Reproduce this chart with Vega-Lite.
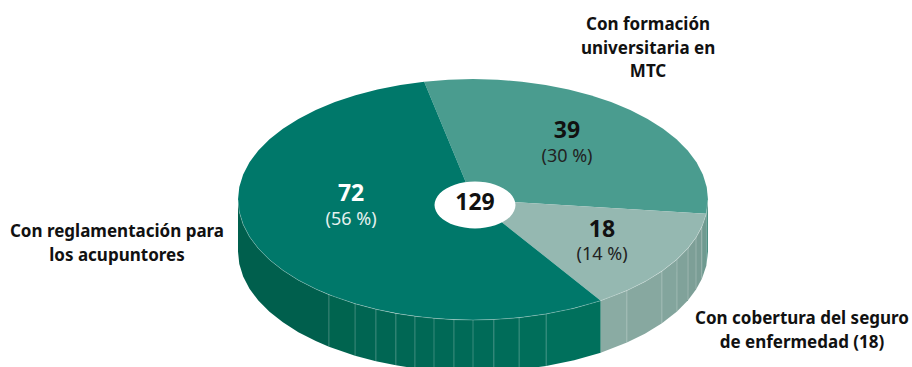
{
  "$schema": "https://vega.github.io/schema/vega-lite/v6.json",
  "width": 912,
  "height": 367,
  "padding": 0,
  "autosize": {"type": "fit", "contains": "padding"},
  "background": "white",
  "view": {"stroke": null},
  "datasets": {
    "slices": [
      {"slice":"Formación MTC","value":39,"n":0,"x":0,"y":0},
      {"slice":"Formación MTC","value":39,"n":1,"x":-0.2079,"y":0.9781},
      {"slice":"Formación MTC","value":39,"n":2,"x":-0.1045,"y":0.9945},
      {"slice":"Formación MTC","value":39,"n":3,"x":0,"y":1},
      {"slice":"Formación MTC","value":39,"n":4,"x":0.1045,"y":0.9945},
      {"slice":"Formación MTC","value":39,"n":5,"x":0.2079,"y":0.9781},
      {"slice":"Formación MTC","value":39,"n":6,"x":0.309,"y":0.9511},
      {"slice":"Formación MTC","value":39,"n":7,"x":0.4067,"y":0.9135},
      {"slice":"Formación MTC","value":39,"n":8,"x":0.5,"y":0.866},
      {"slice":"Formación MTC","value":39,"n":9,"x":0.5878,"y":0.809},
      {"slice":"Formación MTC","value":39,"n":10,"x":0.6691,"y":0.7431},
      {"slice":"Formación MTC","value":39,"n":11,"x":0.7431,"y":0.6691},
      {"slice":"Formación MTC","value":39,"n":12,"x":0.809,"y":0.5878},
      {"slice":"Formación MTC","value":39,"n":13,"x":0.866,"y":0.5},
      {"slice":"Formación MTC","value":39,"n":14,"x":0.9135,"y":0.4067},
      {"slice":"Formación MTC","value":39,"n":15,"x":0.9511,"y":0.309},
      {"slice":"Formación MTC","value":39,"n":16,"x":0.9781,"y":0.2079},
      {"slice":"Formación MTC","value":39,"n":17,"x":0.9945,"y":0.1045},
      {"slice":"Formación MTC","value":39,"n":18,"x":1,"y":0},
      {"slice":"Formación MTC","value":39,"n":19,"x":0.9929,"y":-0.1191},
      {"slice":"Formación MTC","value":39,"n":20,"x":0,"y":0},
      {"slice":"Seguro","value":18,"n":0,"x":0,"y":0},
      {"slice":"Seguro","value":18,"n":1,"x":0.9929,"y":-0.1191},
      {"slice":"Seguro","value":18,"n":2,"x":0.9781,"y":-0.2079},
      {"slice":"Seguro","value":18,"n":3,"x":0.9511,"y":-0.309},
      {"slice":"Seguro","value":18,"n":4,"x":0.9135,"y":-0.4067},
      {"slice":"Seguro","value":18,"n":5,"x":0.866,"y":-0.5},
      {"slice":"Seguro","value":18,"n":6,"x":0.809,"y":-0.5878},
      {"slice":"Seguro","value":18,"n":7,"x":0.7431,"y":-0.6691},
      {"slice":"Seguro","value":18,"n":8,"x":0.6691,"y":-0.7431},
      {"slice":"Seguro","value":18,"n":9,"x":0.5878,"y":-0.809},
      {"slice":"Seguro","value":18,"n":10,"x":0.5436,"y":-0.8393},
      {"slice":"Seguro","value":18,"n":11,"x":0,"y":0},
      {"slice":"Reglamentación","value":72,"n":0,"x":0,"y":0},
      {"slice":"Reglamentación","value":72,"n":1,"x":0.5436,"y":-0.8393},
      {"slice":"Reglamentación","value":72,"n":2,"x":0.5,"y":-0.866},
      {"slice":"Reglamentación","value":72,"n":3,"x":0.4067,"y":-0.9135},
      {"slice":"Reglamentación","value":72,"n":4,"x":0.309,"y":-0.9511},
      {"slice":"Reglamentación","value":72,"n":5,"x":0.2079,"y":-0.9781},
      {"slice":"Reglamentación","value":72,"n":6,"x":0.1045,"y":-0.9945},
      {"slice":"Reglamentación","value":72,"n":7,"x":0,"y":-1},
      {"slice":"Reglamentación","value":72,"n":8,"x":-0.1045,"y":-0.9945},
      {"slice":"Reglamentación","value":72,"n":9,"x":-0.2079,"y":-0.9781},
      {"slice":"Reglamentación","value":72,"n":10,"x":-0.309,"y":-0.9511},
      {"slice":"Reglamentación","value":72,"n":11,"x":-0.4067,"y":-0.9135},
      {"slice":"Reglamentación","value":72,"n":12,"x":-0.5,"y":-0.866},
      {"slice":"Reglamentación","value":72,"n":13,"x":-0.5878,"y":-0.809},
      {"slice":"Reglamentación","value":72,"n":14,"x":-0.6691,"y":-0.7431},
      {"slice":"Reglamentación","value":72,"n":15,"x":-0.7431,"y":-0.6691},
      {"slice":"Reglamentación","value":72,"n":16,"x":-0.809,"y":-0.5878},
      {"slice":"Reglamentación","value":72,"n":17,"x":-0.866,"y":-0.5},
      {"slice":"Reglamentación","value":72,"n":18,"x":-0.9135,"y":-0.4067},
      {"slice":"Reglamentación","value":72,"n":19,"x":-0.9511,"y":-0.309},
      {"slice":"Reglamentación","value":72,"n":20,"x":-0.9781,"y":-0.2079},
      {"slice":"Reglamentación","value":72,"n":21,"x":-0.9945,"y":-0.1045},
      {"slice":"Reglamentación","value":72,"n":22,"x":-1,"y":0},
      {"slice":"Reglamentación","value":72,"n":23,"x":-0.9945,"y":0.1045},
      {"slice":"Reglamentación","value":72,"n":24,"x":-0.9781,"y":0.2079},
      {"slice":"Reglamentación","value":72,"n":25,"x":-0.9511,"y":0.309},
      {"slice":"Reglamentación","value":72,"n":26,"x":-0.9135,"y":0.4067},
      {"slice":"Reglamentación","value":72,"n":27,"x":-0.866,"y":0.5},
      {"slice":"Reglamentación","value":72,"n":28,"x":-0.809,"y":0.5878},
      {"slice":"Reglamentación","value":72,"n":29,"x":-0.7431,"y":0.6691},
      {"slice":"Reglamentación","value":72,"n":30,"x":-0.6691,"y":0.7431},
      {"slice":"Reglamentación","value":72,"n":31,"x":-0.5878,"y":0.809},
      {"slice":"Reglamentación","value":72,"n":32,"x":-0.5,"y":0.866},
      {"slice":"Reglamentación","value":72,"n":33,"x":-0.4067,"y":0.9135},
      {"slice":"Reglamentación","value":72,"n":34,"x":-0.309,"y":0.9511},
      {"slice":"Reglamentación","value":72,"n":35,"x":-0.2079,"y":0.9781},
      {"slice":"Reglamentación","value":72,"n":36,"x":0,"y":0}
    ],
    "wall": [
      {"seg":"a","x":-1,"y":0,"low":-0.4315},
      {"seg":"a","x":-0.9945,"y":-0.1045,"low":-0.536},
      {"seg":"a","x":-0.9781,"y":-0.2079,"low":-0.6394},
      {"seg":"a","x":-0.9511,"y":-0.309,"low":-0.7405},
      {"seg":"a","x":-0.9135,"y":-0.4067,"low":-0.8382},
      {"seg":"a","x":-0.866,"y":-0.5,"low":-0.9315},
      {"seg":"a","x":-0.809,"y":-0.5878,"low":-1.0193},
      {"seg":"a","x":-0.7431,"y":-0.6691,"low":-1.1006},
      {"seg":"a","x":-0.6691,"y":-0.7431,"low":-1.1746},
      {"seg":"a","x":-0.613,"y":-0.79,"low":-1.2215},
      {"seg":"b","x":-0.613,"y":-0.79,"low":-1.2215},
      {"seg":"b","x":-0.502,"y":-0.865,"low":-1.2965},
      {"seg":"c","x":-0.502,"y":-0.865,"low":-1.2965},
      {"seg":"c","x":-0.413,"y":-0.911,"low":-1.3425},
      {"seg":"d","x":-0.413,"y":-0.911,"low":-1.3425},
      {"seg":"d","x":-0.328,"y":-0.945,"low":-1.3765},
      {"seg":"e","x":-0.328,"y":-0.945,"low":-1.3765},
      {"seg":"e","x":-0.247,"y":-0.969,"low":-1.4005},
      {"seg":"f","x":-0.247,"y":-0.969,"low":-1.4005},
      {"seg":"f","x":-0.166,"y":-0.986,"low":-1.4175},
      {"seg":"g","x":-0.166,"y":-0.986,"low":-1.4175},
      {"seg":"g","x":-0.081,"y":-0.997,"low":-1.4285},
      {"seg":"h","x":-0.081,"y":-0.997,"low":-1.4285},
      {"seg":"h","x":0,"y":-1,"low":-1.4315},
      {"seg":"i","x":0,"y":-1,"low":-1.4315},
      {"seg":"i","x":0.089,"y":-0.996,"low":-1.4275},
      {"seg":"j","x":0.089,"y":-0.996,"low":-1.4275},
      {"seg":"j","x":0.196,"y":-0.981,"low":-1.4125},
      {"seg":"k","x":0.196,"y":-0.981,"low":-1.4125},
      {"seg":"k","x":0.311,"y":-0.95,"low":-1.3815},
      {"seg":"l","x":0.311,"y":-0.95,"low":-1.3815},
      {"seg":"l","x":0.4305,"y":-0.9026,"low":-1.3341},
      {"seg":"l","x":0.5436,"y":-0.8393,"low":-1.2708},
      {"seg":"m","x":0.5436,"y":-0.8393,"low":-1.2708},
      {"seg":"m","x":0.655,"y":-0.756,"low":-1.1875},
      {"seg":"n","x":0.655,"y":-0.756,"low":-1.1875},
      {"seg":"n","x":0.7314,"y":-0.682,"low":-1.1135},
      {"seg":"n","x":0.804,"y":-0.595,"low":-1.0265},
      {"seg":"o","x":0.804,"y":-0.595,"low":-1.0265},
      {"seg":"o","x":0.868,"y":-0.497,"low":-0.9285},
      {"seg":"p","x":0.868,"y":-0.497,"low":-0.9285},
      {"seg":"p","x":0.915,"y":-0.404,"low":-0.8355},
      {"seg":"q","x":0.915,"y":-0.404,"low":-0.8355},
      {"seg":"q","x":0.949,"y":-0.316,"low":-0.7475},
      {"seg":"r","x":0.949,"y":-0.316,"low":-0.7475},
      {"seg":"r","x":0.974,"y":-0.227,"low":-0.6585},
      {"seg":"s","x":0.974,"y":-0.227,"low":-0.6585},
      {"seg":"s","x":0.9929,"y":-0.1191,"low":-0.5506},
      {"seg":"t","x":0.9929,"y":-0.1191,"low":-0.5506},
      {"seg":"t","x":1,"y":0,"low":-0.4315}
    ],
    "seams": [
      {"x":-0.613,"y":-0.79,"low":-1.2215},
      {"x":-0.502,"y":-0.865,"low":-1.2965},
      {"x":-0.413,"y":-0.911,"low":-1.3425},
      {"x":-0.328,"y":-0.945,"low":-1.3765},
      {"x":-0.247,"y":-0.969,"low":-1.4005},
      {"x":-0.166,"y":-0.986,"low":-1.4175},
      {"x":-0.081,"y":-0.997,"low":-1.4285},
      {"x":0,"y":-1,"low":-1.4315},
      {"x":0.089,"y":-0.996,"low":-1.4275},
      {"x":0.196,"y":-0.981,"low":-1.4125},
      {"x":0.311,"y":-0.95,"low":-1.3815},
      {"x":0.655,"y":-0.756,"low":-1.1875},
      {"x":0.804,"y":-0.595,"low":-1.0265},
      {"x":0.868,"y":-0.497,"low":-0.9285},
      {"x":0.915,"y":-0.404,"low":-0.8355},
      {"x":0.949,"y":-0.316,"low":-0.7475},
      {"x":0.974,"y":-0.227,"low":-0.6585}
    ],
    "hub": [
      {"n":0,"x":0.1808,"y":-0.0456},
      {"n":1,"x":0.1577,"y":0.0519},
      {"n":2,"x":0.0947,"y":0.1233},
      {"n":3,"x":0.0085,"y":0.1494},
      {"n":4,"x":-0.0777,"y":0.1233},
      {"n":5,"x":-0.1407,"y":0.0519},
      {"n":6,"x":-0.1638,"y":-0.0456},
      {"n":7,"x":-0.1407,"y":-0.1431},
      {"n":8,"x":-0.0777,"y":-0.2145},
      {"n":9,"x":0.0085,"y":-0.2406},
      {"n":10,"x":0.0947,"y":-0.2145},
      {"n":11,"x":0.1577,"y":-0.1431}
    ],
    "counts": [
      {"label":"72","tone":"claro","x":-0.519,"y":0.046},
      {"label":"39","tone":"oscuro","x":0.4,"y":0.568},
      {"label":"18","tone":"oscuro","x":0.549,"y":-0.253},
      {"label":"129","tone":"oscuro","x":0.0085,"y":-0.029}
    ],
    "shares": [
      {"label":"(56 %)","tone":"claro","x":-0.519,"y":-0.17},
      {"label":"(30 %)","tone":"oscuro","x":0.4,"y":0.353},
      {"label":"(14 %)","tone":"oscuro","x":0.549,"y":-0.461}
    ],
    "names": [
      {"label":"Con formación\nuniversitaria en\nMTC","x":0.745,"y":1.448},
      {"label":"Con reglamentación para\nlos acupuntores","x":-1.515,"y":-0.27},
      {"label":"Con cobertura del seguro\nde enfermedad (18)","x":1.4,"y":-0.992}
    ]
  },
  "encoding": {
    "x": {"field":"x","type":"quantitative","axis":null,"scale":{"domain":[-2.0128,1.8681],"nice":false,"zero":false}},
    "y": {"field":"y","type":"quantitative","axis":null,"scale":{"domain":[-1.39,1.6556],"nice":false,"zero":false}}
  },
  "layer": [
    {
      "data": {"name":"wall"},
      "mark": {"type":"area","clip":true},
      "encoding": {
        "y2": {"field":"low"},
        "fill": {"field":"seg","type":"nominal","legend":null,"scale":{
          "domain":["a","b","c","d","e","f","g","h","i","j","k","l","m","n","o","p","q","r","s","t"],
          "range":["#005f4d","#00644f","#006552","#006653","#006754","#006855","#006956","#006a57","#006b58","#006c59","#006e5a","#00705c","#8aaba3","#87a8a0","#83a59d","#80a29a","#7d9f97","#7a9d95","#6f9a90","#4e8f82"]
        }}
      }
    },
    {
      "data": {"name":"seams"},
      "mark": {"type":"rule","clip":true,"stroke":"#ffffff","strokeOpacity":0.22,"strokeWidth":1},
      "encoding": {"y2": {"field":"low"}}
    },
    {
      "data": {"name":"slices"},
      "mark": {"type":"line","filled":true,"strokeWidth":0},
      "encoding": {
        "color": {"field":"slice","type":"nominal","legend":null,"scale":{
          "domain":["Reglamentación","Formación MTC","Seguro"],
          "range":["#00786a","#4a9c8f","#95b8b1"]
        }},
        "order": {"field":"n","type":"quantitative"}
      }
    },
    {
      "data": {"name":"wall"},
      "mark": {"type":"line","stroke":"#ffffff","strokeOpacity":0.35,"strokeWidth":0.7}
    },
    {
      "data": {"name":"hub"},
      "mark": {"type":"line","filled":true,"color":"#ffffff","interpolate":"cardinal-closed","strokeWidth":0},
      "encoding": {"order": {"field":"n","type":"quantitative"}}
    },
    {
      "data": {"name":"names"},
      "mark": {"type":"text","font":"Noto Sans","fontWeight":700,"fontSize":17,"color":"#111111","align":"center","baseline":"middle","lineBreak":"\n","lineHeight":23.5},
      "encoding": {"text": {"field":"label"}}
    },
    {
      "data": {"name":"counts"},
      "mark": {"type":"text","font":"Noto Sans","fontWeight":700,"fontSize":23,"align":"center","baseline":"middle"},
      "encoding": {
        "text": {"field":"label"},
        "color": {"field":"tone","type":"nominal","legend":null,"scale":{"domain":["claro","oscuro"],"range":["#ffffff","#111111"]}}
      }
    },
    {
      "data": {"name":"shares"},
      "mark": {"type":"text","font":"Noto Sans","fontSize":18,"align":"center","baseline":"middle"},
      "encoding": {
        "text": {"field":"label"},
        "color": {"field":"tone","type":"nominal","legend":null,"scale":{"domain":["claro","oscuro"],"range":["#e6f1ee","#222222"]}}
      }
    }
  ],
  "resolve": {"scale": {"color":"independent","fill":"independent"}}
}
